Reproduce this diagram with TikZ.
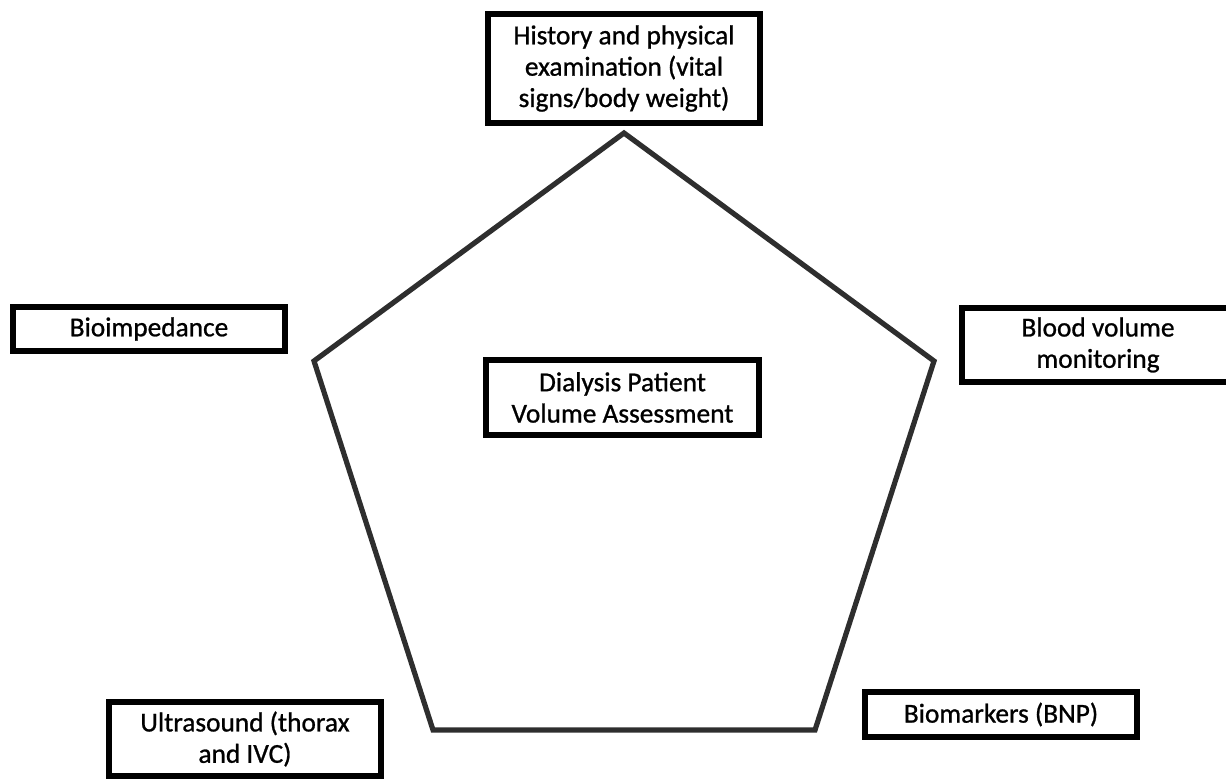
\documentclass[tikz,border=0pt]{standalone}
\usepackage{fontspec}
\setmainfont{Carlito}
\newfontfamily\lblfont{Carlito}[FakeBold=0.9]
\definecolor{pent}{HTML}{2E2E2E}
\tikzset{
  lbox/.style={draw=black, line width=4.5pt, fill=white, rectangle, align=center, inner sep=0pt,
    font=\lblfont\fontsize{20.5}{23.5}\selectfont, text=black},
}
\begin{document}
\begin{tikzpicture}[x=0.75pt,y=-0.75pt]
\useasboundingbox (0,0) rectangle (1226,778);
\clip (0,0) rectangle (1226,778);
% pentagon
\coordinate (pt) at (624,133);
\coordinate (pr) at (934,361);
\coordinate (pbr) at (815,730);
\coordinate (pbl) at (433,730);
\coordinate (pl) at (314,361);
\draw[pent, line width=3.9pt, line join=miter] (pt) -- (pr) -- (pbr) -- (pbl) -- (pl) -- cycle;
% boxes
\node[lbox, minimum width=272*0.75pt, minimum height=109*0.75pt] (hist) at (624,68.5)
  {History and physical\\examination (vital\\signs/body weight)};
\node[lbox, minimum width=272*0.75pt, minimum height=44*0.75pt] (bio) at (149,329)
  {Bioimpedance};
\node[lbox, minimum width=272*0.75pt, minimum height=74*0.75pt] (blood) at (1098,345)
  {Blood volume\\monitoring};
\node[lbox, minimum width=272*0.75pt, minimum height=74*0.75pt] (ultra) at (245,739)
  {Ultrasound (thorax\\and IVC)};
\node[lbox, minimum width=272*0.75pt, minimum height=45*0.75pt] (bnp) at (1001,714.5)
  {Biomarkers (BNP)};
\node[lbox, minimum width=273*0.75pt, minimum height=75*0.75pt] (center) at (622.5,397.5)
  {Dialysis Patient\\Volume Assessment};
\end{tikzpicture}
\end{document}
